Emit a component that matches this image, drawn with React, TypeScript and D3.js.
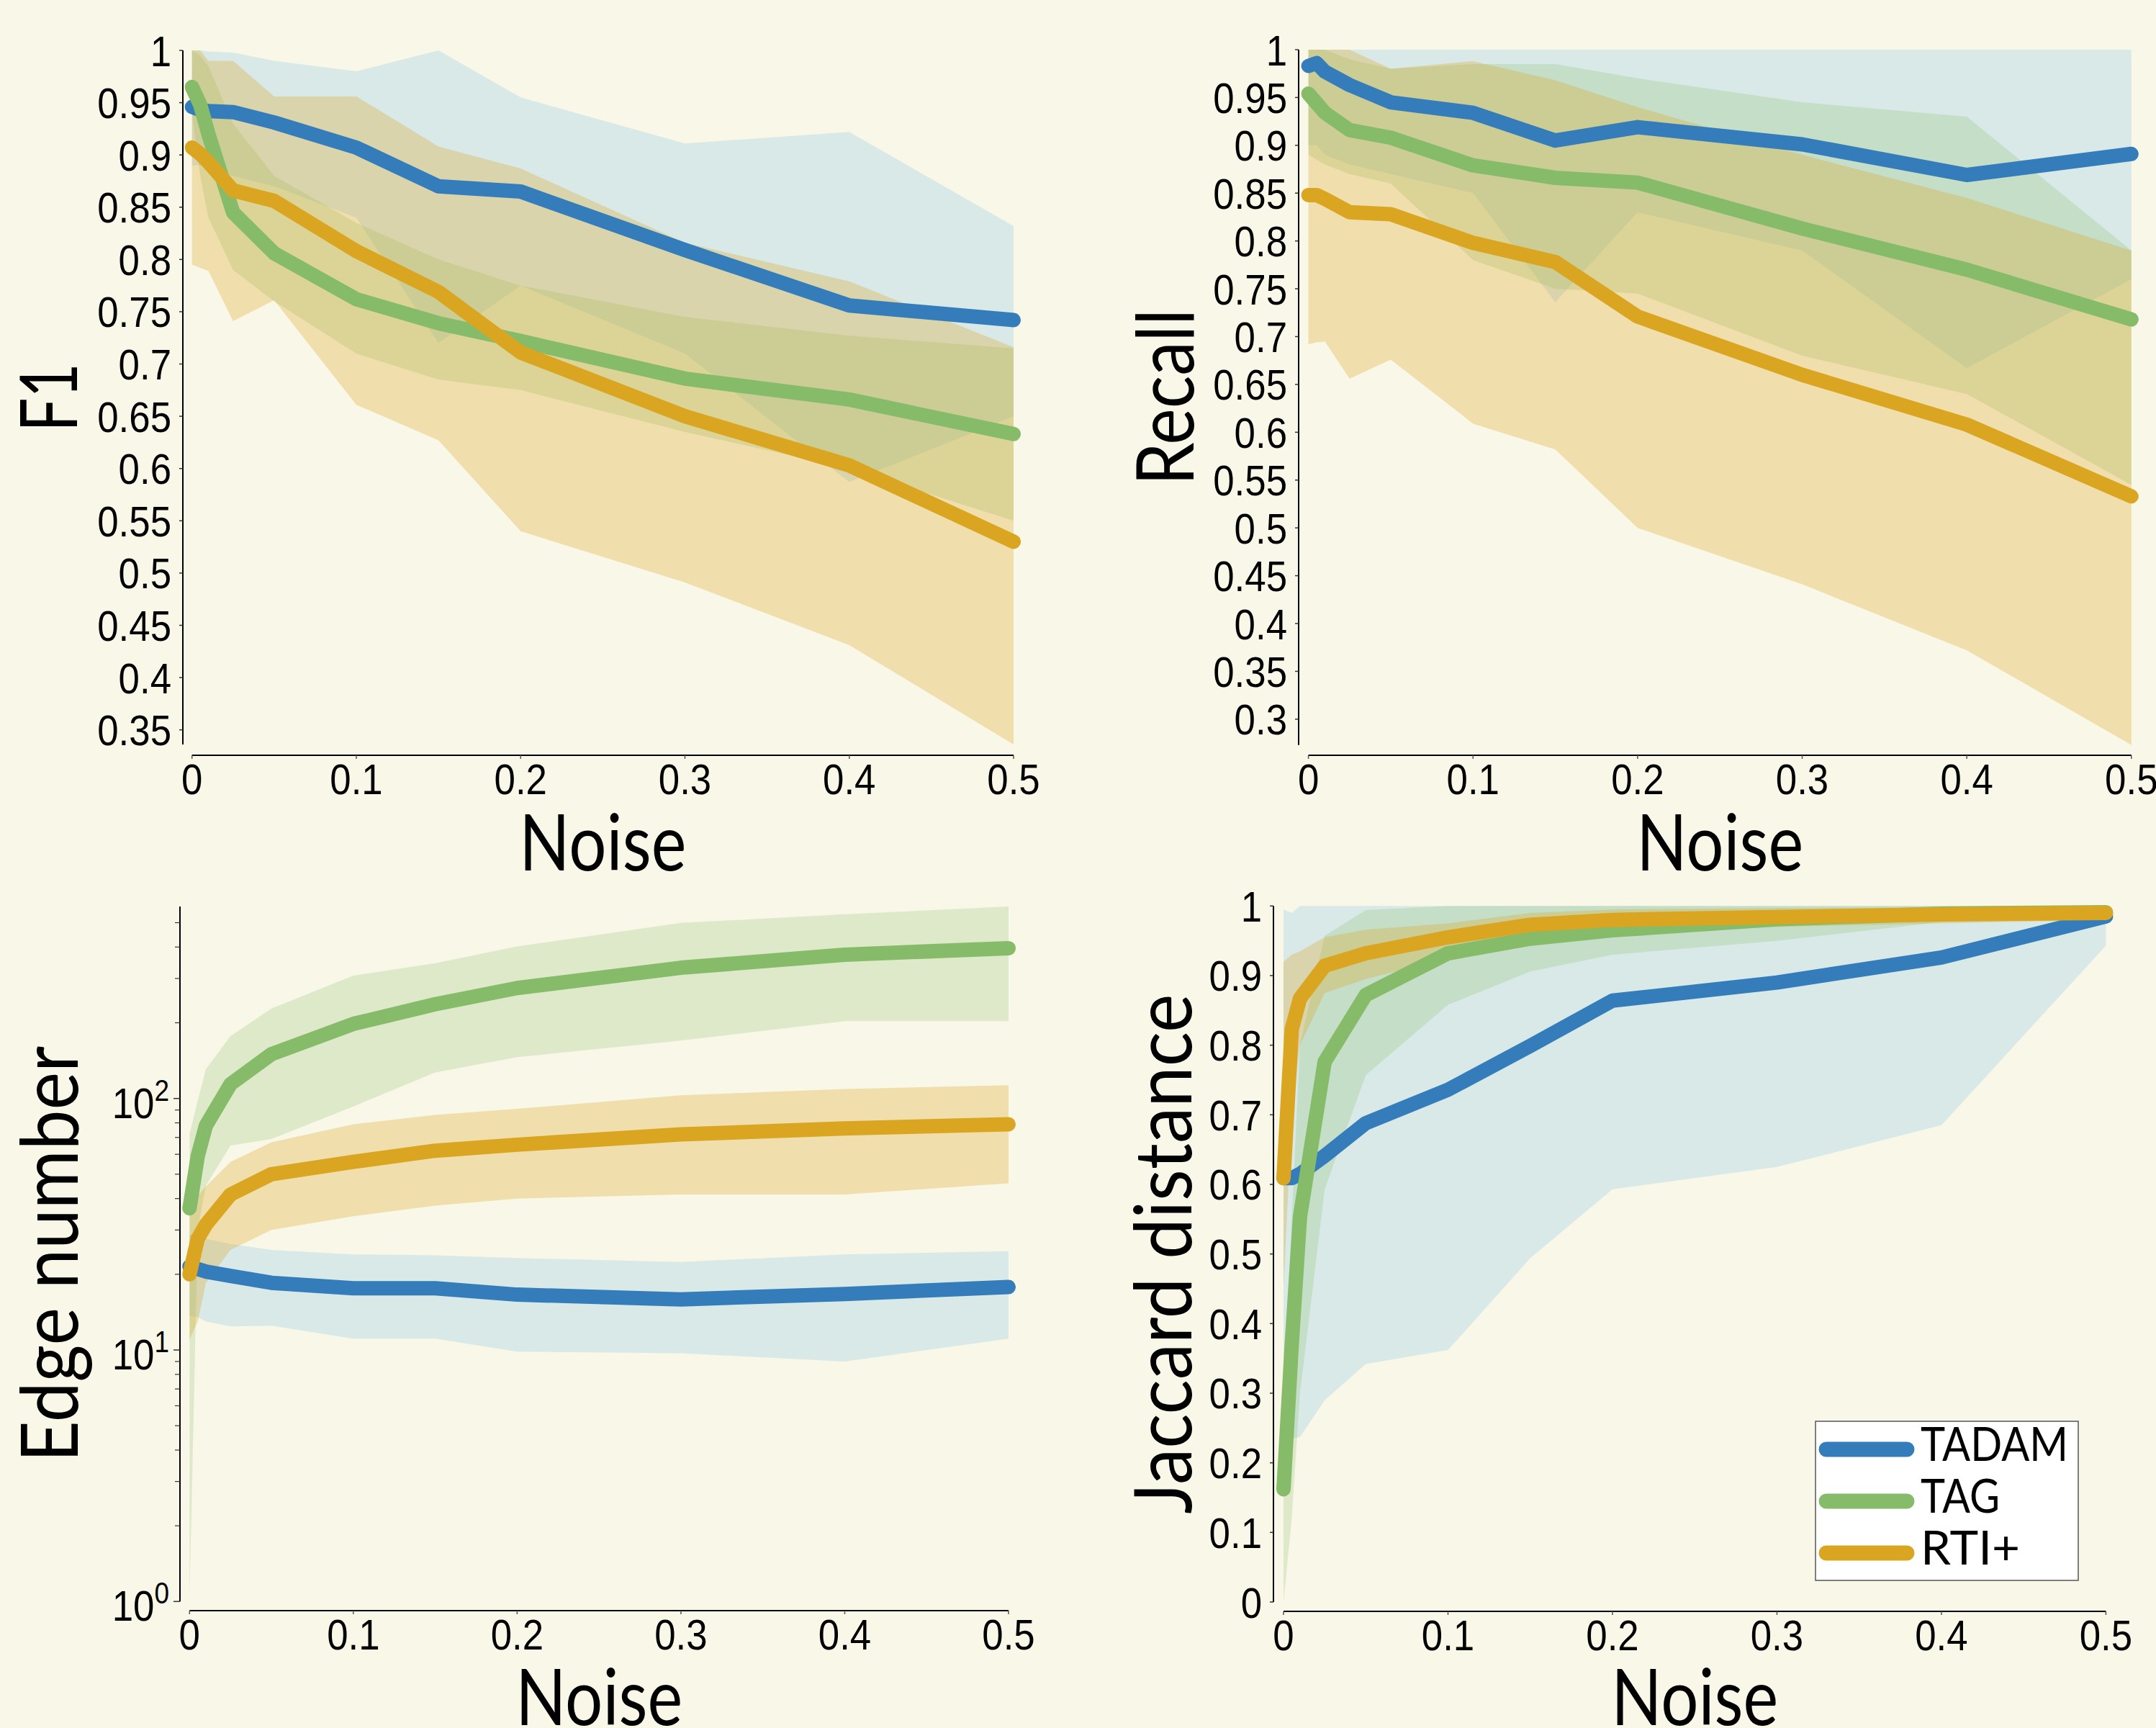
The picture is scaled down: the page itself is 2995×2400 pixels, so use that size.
import * as d3 from 'd3'

const W = 2995
const H = 2400
const BG = '#f9f8e8'

// x values (noise level)
const noise = [0, 0.005, 0.01, 0.025, 0.05, 0.1, 0.15, 0.2, 0.3, 0.4, 0.5]
const noiseTicks = [0, 0.1, 0.2, 0.3, 0.4, 0.5]
const noiseTickLabels = ['0', '0.1', '0.2', '0.3', '0.4', '0.5']

const methods = ['TADAM', 'TAG', 'RTI+']
const lineColors = ['#347dba', '#86bc69', '#daa520']
const bandColors = ['#a9d3e6', '#86bc69', '#daa520']
const bandOpacity = [0.4, 0.24, 0.3]

// F1
const f1Tadam = [0.946, 0.943, 0.942, 0.941, 0.931, 0.907, 0.87, 0.865, 0.809, 0.756, 0.742]
const f1TadamHi = [1.0, 1.0, 0.999, 0.998, 0.99, 0.98, 1.0, 0.955, 0.911, 0.922, 0.832]
const f1TadamLo = [0.89, 0.89, 0.885, 0.88, 0.87, 0.84, 0.72, 0.775, 0.71, 0.587, 0.65]
const f1Tag = [0.965, 0.948, 0.92, 0.845, 0.806, 0.762, 0.739, 0.722, 0.686, 0.666, 0.633]
const f1TagHi = [1.0, 0.995, 0.985, 0.93, 0.88, 0.835, 0.8, 0.775, 0.745, 0.727, 0.715]
const f1TagLo = [0.94, 0.88, 0.84, 0.79, 0.76, 0.71, 0.685, 0.675, 0.635, 0.6, 0.55]
const f1Rti = [0.907, 0.901, 0.893, 0.866, 0.856, 0.808, 0.769, 0.711, 0.65, 0.603, 0.53]
const f1RtiHi = [1.0, 1.0, 0.99, 0.99, 0.956, 0.956, 0.908, 0.887, 0.816, 0.779, 0.716]
const f1RtiLo = [0.795, 0.792, 0.789, 0.741, 0.761, 0.661, 0.627, 0.54, 0.491, 0.431, 0.336]
const f1Ticks = [0.35, 0.4, 0.45, 0.5, 0.55, 0.6, 0.65, 0.7, 0.75, 0.8, 0.85, 0.9, 0.95, 1]
const f1TickLabels = ['0.35', '0.4', '0.45', '0.5', '0.55', '0.6', '0.65', '0.7', '0.75', '0.8', '0.85', '0.9', '0.95', '1']

// Recall
const recTadam = [0.983, 0.986, 0.977, 0.963, 0.945, 0.934, 0.905, 0.919, 0.901, 0.869, 0.891]
const recTadamHi = [1, 1, 1, 1, 1, 1, 1, 1, 1, 1, 1]
const recTadamLo = [0.9, 0.9, 0.89, 0.88, 0.87, 0.85, 0.736, 0.83, 0.79, 0.667, 0.76]
const recTag = [0.954, 0.944, 0.934, 0.916, 0.908, 0.879, 0.866, 0.861, 0.813, 0.77, 0.718]
const recTagHi = [1.0, 1.0, 1.0, 0.99, 0.98, 0.985, 0.985, 0.97, 0.945, 0.93, 0.79]
const recTagLo = [0.89, 0.885, 0.88, 0.87, 0.86, 0.78, 0.75, 0.745, 0.68, 0.64, 0.545]
const recRti = [0.848, 0.848, 0.844, 0.83, 0.828, 0.798, 0.778, 0.721, 0.66, 0.608, 0.533]
const recRtiHi = [1.0, 1.0, 1.0, 1.0, 0.98, 0.988, 0.968, 0.94, 0.89, 0.845, 0.79]
const recRtiLo = [0.692, 0.694, 0.695, 0.656, 0.676, 0.609, 0.582, 0.5, 0.441, 0.372, 0.273]
const recTicks = [0.3, 0.35, 0.4, 0.45, 0.5, 0.55, 0.6, 0.65, 0.7, 0.75, 0.8, 0.85, 0.9, 0.95, 1]
const recTickLabels = ['0.3', '0.35', '0.4', '0.45', '0.5', '0.55', '0.6', '0.65', '0.7', '0.75', '0.8', '0.85', '0.9', '0.95', '1']

// Edge number (log scale)
const edgeTadam = [21.5, 21, 20.5, 19.7, 18.5, 17.6, 17.6, 16.6, 15.9, 16.7, 17.8]
const edgeTadamHi = [28.9, 28.3, 27.7, 26.4, 25, 24, 23.8, 23.2, 22.4, 24, 24.7]
const edgeTadamLo = [13.7, 13.5, 13, 12.4, 12.5, 11.1, 11.1, 9.85, 9.7, 9.0, 11.1]
const edgeTag = [36.6, 59, 78, 114, 150, 198, 237, 275, 331, 373, 396]
const edgeTagHi = [72, 98, 131, 177, 228, 308, 345, 402, 499, 540, 580]
const edgeTagLo = [1.05, 30, 45, 65, 69, 93, 127, 146, 170, 203, 203]
const edgeRti = [20, 27.7, 31.5, 41.5, 50, 56, 62, 65.5, 72, 76, 79]
const edgeRtiHi = [37.5, 41, 44.7, 56, 67, 79, 86, 91, 103, 109, 113]
const edgeRtiLo = [11, 13, 18.5, 25, 30, 34, 37.5, 40, 41.5, 41.5, 46]
const edgeMajorTicks = [1, 10, 100]
const edgeMajorExp = ['0', '1', '2']
const edgeMinorTicks = [2, 3, 4, 5, 6, 7, 8, 9, 20, 30, 40, 50, 60, 70, 80, 90, 200, 300, 400, 500]

// Jaccard distance
const jacTadam = [0.609, 0.609, 0.615, 0.641, 0.688, 0.736, 0.799, 0.864, 0.89, 0.926, 0.985]
const jacTadamHi = [0.995, 0.99, 1, 1, 1, 1, 1, 1, 1, 1, 1]
const jacTadamLo = [0.25, 0.235, 0.237, 0.29, 0.342, 0.362, 0.494, 0.593, 0.625, 0.685, 0.943]
const jacTag = [0.162, 0.37, 0.553, 0.776, 0.872, 0.932, 0.953, 0.965, 0.981, 0.989, 0.991]
const jacTagHi = [0.3, 0.55, 0.8, 0.957, 0.994, 1, 1, 1, 1, 1, 1]
const jacTagLo = [0.0, 0.12, 0.3, 0.593, 0.757, 0.858, 0.906, 0.93, 0.95, 0.977, 0.98]
const jacRti = [0.609, 0.823, 0.867, 0.914, 0.932, 0.955, 0.973, 0.98, 0.984, 0.988, 0.99]
const jacRtiHi = [0.92, 0.93, 0.935, 0.955, 0.966, 0.975, 0.99, 0.995, 0.997, 0.998, 1.0]
const jacRtiLo = [0.45, 0.7, 0.8, 0.875, 0.895, 0.925, 0.95, 0.96, 0.97, 0.975, 0.98]
const jacTicks = [0, 0.1, 0.2, 0.3, 0.4, 0.5, 0.6, 0.7, 0.8, 0.9, 1]
const jacTickLabels = ['0', '0.1', '0.2', '0.3', '0.4', '0.5', '0.6', '0.7', '0.8', '0.9', '1']

const TICK_FONT = 'Liberation Sans, Arial, sans-serif'
const LABEL_FONT = 'Lato, Liberation Sans, sans-serif'

const panels = [
  {
    label: 'F1', labelLen: 95, labelX: 107,
    log: false, yDomain: [0.336, 1], yTop: 70, yBottom: 1034,
    x0: 266.7, x1: 1408, yAxisX: 254, xAxisY: 1049, noiseY: 1209,
    ticks: f1Ticks, tickLabels: f1TickLabels,
    mean: [f1Tadam, f1Tag, f1Rti], hi: [f1TadamHi, f1TagHi, f1RtiHi], lo: [f1TadamLo, f1TagLo, f1RtiLo],
  },
  {
    label: 'Recall', labelLen: 245, labelX: 1658,
    log: false, yDomain: [0.273, 1], yTop: 69, yBottom: 1034.7,
    x0: 1817.6, x1: 2960.8, yAxisX: 1804, xAxisY: 1049, noiseY: 1209,
    ticks: recTicks, tickLabels: recTickLabels,
    mean: [recTadam, recTag, recRti], hi: [recTadamHi, recTagHi, recRtiHi], lo: [recTadamLo, recTagLo, recRtiLo],
  },
  {
    label: 'Edge number', labelLen: 578, labelX: 108,
    log: true, yDomain: [1, 580], yTop: 1259, yBottom: 2224.3,
    x0: 263.3, x1: 1401, yAxisX: 250, xAxisY: 2237, noiseY: 2396,
    ticks: edgeMajorTicks, tickLabels: edgeMajorExp,
    mean: [edgeTadam, edgeTag, edgeRti], hi: [edgeTadamHi, edgeTagHi, edgeRtiHi], lo: [edgeTadamLo, edgeTagLo, edgeRtiLo],
  },
  {
    label: 'Jaccard distance', labelLen: 722, labelX: 1655,
    log: false, yDomain: [0, 1], yTop: 1258.3, yBottom: 2225,
    x0: 1783, x1: 2925.4, yAxisX: 1769, xAxisY: 2238, noiseY: 2396,
    ticks: jacTicks, tickLabels: jacTickLabels,
    mean: [jacTadam, jacTag, jacRti], hi: [jacTadamHi, jacTagHi, jacRtiHi], lo: [jacTadamLo, jacTagLo, jacRtiLo],
  },
]

function Panel({ p }: { p: any }) {
  const x = d3.scaleLinear().domain([0, 0.5]).range([p.x0, p.x1])
  const y: any = p.log
    ? d3.scaleLog().domain(p.yDomain).range([p.yBottom, p.yTop])
    : d3.scaleLinear().domain(p.yDomain).range([p.yBottom, p.yTop])

  const line = d3.line<number>().x((_, i) => x(noise[i])).y((d) => y(d))
  const band = (lo: number[], hi: number[]) =>
    d3.area<number>()
      .x((_, i) => x(noise[i]))
      .y0((_, i) => y(lo[i]))
      .y1((_, i) => y(hi[i]))(noise)

  const cy = (p.yTop + p.yBottom) / 2
  const cx = (p.x0 + p.x1) / 2

  return (
    <g>
      {/* shaded ranges */}
      {methods.map((m, k) => (
        <path key={'b' + m} d={band(p.lo[k], p.hi[k]) || ''} fill={bandColors[k]} fillOpacity={bandOpacity[k]} stroke="none" />
      ))}
      {/* mean lines */}
      {methods.map((m, k) => (
        <path key={'l' + m} d={line(p.mean[k]) || ''} fill="none" stroke={lineColors[k]} strokeWidth={20}
          strokeLinecap="round" strokeLinejoin="round" />
      ))}

      {/* y axis */}
      <line x1={p.yAxisX} x2={p.yAxisX} y1={p.yTop} y2={p.yBottom} stroke="#000" strokeWidth={2} />
      {!p.log && p.ticks.map((t: number, i: number) => (
        <g key={'yt' + i}>
          <line x1={p.yAxisX - 5} x2={p.yAxisX} y1={y(t)} y2={y(t)} stroke="#333" strokeWidth={1.5} />
          <text transform={`translate(${p.yAxisX - 16},${y(t) + 21.5}) scale(0.88,1)`} textAnchor="end"
            fontFamily={TICK_FONT} fontSize={60} fill="#000">{p.tickLabels[i]}</text>
        </g>
      ))}
      {p.log && edgeMinorTicks.map((t) => (
        <line key={'mt' + t} x1={p.yAxisX - 7} x2={p.yAxisX} y1={y(t)} y2={y(t)} stroke="#333" strokeWidth={1.2} />
      ))}
      {p.log && p.ticks.map((t: number, i: number) => (
        <g key={'lt' + i}>
          <line x1={p.yAxisX - 9} x2={p.yAxisX} y1={y(t)} y2={y(t)} stroke="#333" strokeWidth={1.5} />
          <text transform={`translate(${p.yAxisX - 15},${y(t) + 27}) scale(0.88,1)`} textAnchor="end"
            fontFamily={TICK_FONT} fontSize={60} fill="#000">
            10<tspan dy={-24} fontSize={42}>{p.tickLabels[i]}</tspan>
          </text>
        </g>
      ))}

      {/* x axis */}
      <line x1={p.x0} x2={p.x1} y1={p.xAxisY} y2={p.xAxisY} stroke="#000" strokeWidth={2} />
      {noiseTicks.map((t, i) => (
        <g key={'xt' + i}>
          <line x1={x(t)} x2={x(t)} y1={p.xAxisY} y2={p.xAxisY + 5} stroke="#555" strokeWidth={1.5} />
          <text transform={`translate(${x(t)},${p.xAxisY + 54}) scale(0.88,1)`} textAnchor="middle"
            fontFamily={TICK_FONT} fontSize={60} fill="#000">{noiseTickLabels[i]}</text>
        </g>
      ))}

      {/* axis titles */}
      <text x={cx} y={p.noiseY} textAnchor="middle" fontFamily={LABEL_FONT} fontSize={108}
        textLength={232} lengthAdjust="spacingAndGlyphs" fill="#000">Noise</text>
      <text transform={`translate(${p.labelX},${cy}) rotate(-90)`} textAnchor="middle" fontFamily={LABEL_FONT}
        fontSize={110} textLength={p.labelLen} lengthAdjust="spacingAndGlyphs" fill="#000">{p.label}</text>
    </g>
  )
}

const legendTextLen = [205, 110, 138]

function Legend() {
  const rows = d3.scalePoint<string>().domain(methods).range([2013, 2157])
  return (
    <g>
      <rect x={2522} y={1974} width={365} height={221} fill="#fff" stroke="#555" strokeWidth={1.5} />
      {methods.map((m, k) => (
        <g key={m}>
          <line x1={2537} x2={2649} y1={rows(m)} y2={rows(m)} stroke={lineColors[k]} strokeWidth={21} strokeLinecap="round" />
          <text x={2668} y={(rows(m) as number) + 16} fontFamily={LABEL_FONT} fontSize={66}
            textLength={legendTextLen[k]} lengthAdjust="spacingAndGlyphs" fill="#000">{m}</text>
        </g>
      ))}
    </g>
  )
}

export default function App() {
  return (
    <svg width={W} height={H} style={{ position: 'absolute', left: 0, top: 0 }}>
      <rect x={0} y={0} width={W} height={H} fill={BG} />
      {panels.map((p) => (
        <Panel key={p.label} p={p} />
      ))}
      <Legend />
    </svg>
  )
}
